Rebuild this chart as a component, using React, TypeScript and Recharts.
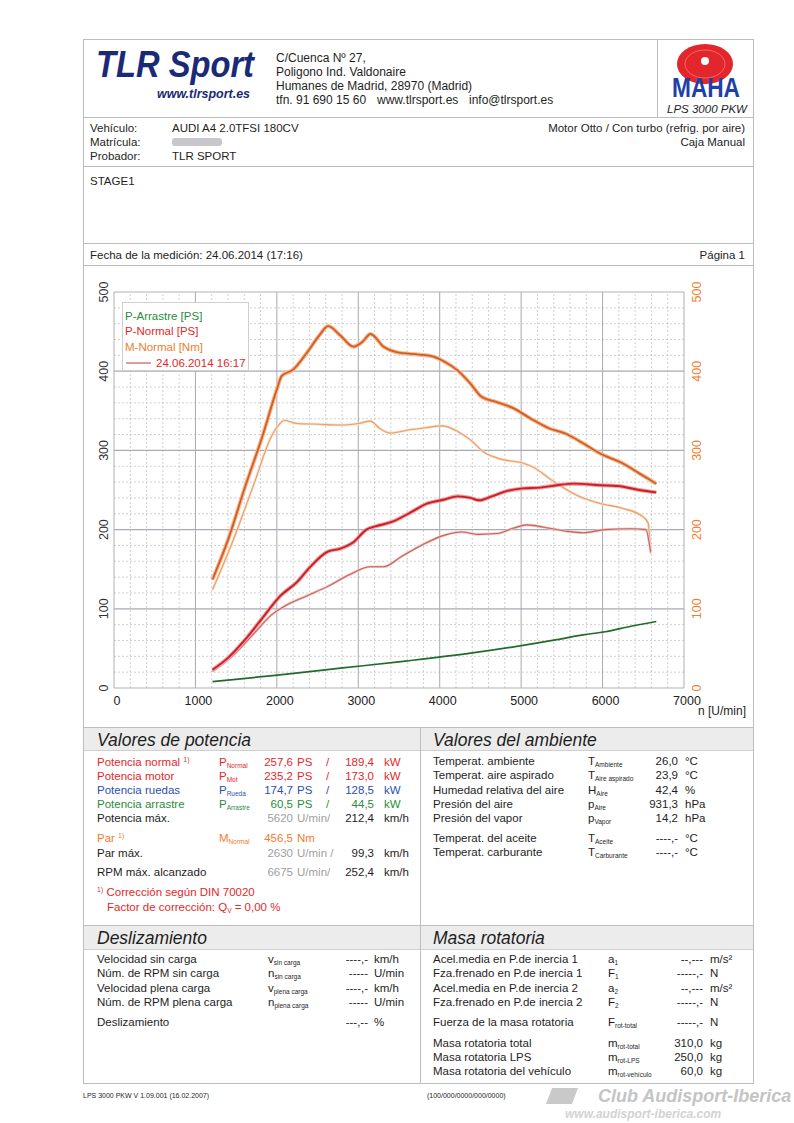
import React from 'react';
import { LineChart, Line, XAxis, YAxis, ReferenceLine } from 'recharts';

// ---------- data ----------
const xTicks = [0, 1000, 2000, 3000, 4000, 5000, 6000, 7000];
const yTicks = [0, 100, 200, 300, 400, 500];

const rpmTorqueA = [1210, 1400, 1610, 1820, 2000, 2060, 2200, 2360, 2520, 2630, 2780, 2940, 3050, 3150, 3310, 3470, 3740, 3900, 4060, 4220, 4380, 4510, 4700, 4910, 5120, 5340, 5550, 5760, 5970, 6240, 6450, 6660];
const torqueA = [137, 187, 254, 317, 377, 394, 402, 422, 445, 457, 445, 431, 437, 447, 431, 424, 421, 419, 412, 401, 384, 368, 361, 353, 340, 328, 321, 309, 296, 284, 271, 258];

const rpmTorqueB = [1210, 1450, 1720, 1930, 2040, 2090, 2250, 2520, 2780, 3000, 3150, 3260, 3390, 3630, 3850, 4030, 4220, 4380, 4540, 4750, 5020, 5180, 5340, 5500, 5710, 5970, 6240, 6500, 6560, 6590];
const torqueB = [124, 183, 258, 317, 334, 338, 334, 333, 332, 334, 337, 328, 322, 326, 329, 331, 324, 313, 298, 289, 284, 277, 265, 254, 242, 233, 227, 216, 208, 170];

const rpmPowerA = [1210, 1400, 1610, 1820, 2040, 2250, 2410, 2620, 2780, 2940, 3100, 3210, 3420, 3630, 3850, 4060, 4220, 4380, 4480, 4640, 4800, 5020, 5230, 5440, 5650, 5970, 6190, 6450, 6660];
const powerA = [23, 38, 61, 88, 116, 134, 153, 172, 176, 184, 200, 204, 210, 221, 233, 238, 242, 240, 237, 242, 248, 252, 253, 256, 258, 256, 255, 250, 247];

const rpmPowerB = [1210, 1450, 1720, 1930, 2090, 2360, 2620, 2890, 3150, 3310, 3530, 3790, 4060, 4270, 4480, 4700, 4910, 5070, 5280, 5550, 5760, 6030, 6350, 6530, 6590];
const powerB = [21, 40, 69, 92, 103, 116, 128, 143, 153, 153, 166, 181, 193, 197, 194, 195, 202, 206, 203, 198, 196, 200, 201, 200, 172];

const rpmDrag = [1210, 1980, 2780, 3580, 4380, 4910, 5440, 5760, 6030, 6350, 6660];
const drag = [8, 16, 25, 34, 44, 52, 61, 67, 71, 78, 84];

const toData = (xs: number[], ys: number[]) => xs.map((x, i) => ({ rpm: x, v: ys[i] }));
const dTorqueA = toData(rpmTorqueA, torqueA);
const dTorqueB = toData(rpmTorqueB, torqueB);
const dPowerA = toData(rpmPowerA, powerA);
const dPowerB = toData(rpmPowerB, powerB);
const dDrag = toData(rpmDrag, drag);

const xMinor = Array.from({ length: 36 }, (_, i) => i * 200).filter((v) => v % 1000 !== 0);
const yMinor = Array.from({ length: 26 }, (_, i) => i * 20).filter((v) => v % 100 !== 0);
const xMajor = [1000, 2000, 3000, 4000, 5000, 6000];
const yMajor = [100, 200, 300, 400];

// ---------- styling ----------
const F = 'Liberation Sans, Arial, Helvetica, sans-serif';
const RED = '#e2282a';
const BLUE = '#2b4fb0';
const GREEN = '#2a8c3c';
const ORANGE = '#ef7d2e';
const GRAY = '#a0a0a0';
const INK = '#1e1e1e';

type TP = { x: number; y: number; children?: React.ReactNode; size?: number; fill?: string; anchor?: 'start' | 'middle' | 'end'; italic?: boolean; bold?: boolean; len?: number };
const T = ({ x, y, children, size = 11.5, fill = INK, anchor = 'start', italic = false, bold = false, len }: TP) => (
  <text x={x} y={y} dominantBaseline="central" fontFamily={F} fontSize={size} fill={fill} textAnchor={anchor}
    fontStyle={italic ? 'italic' : 'normal'} fontWeight={bold ? 'bold' : 'normal'}
    {...(len ? { textLength: len, lengthAdjust: 'spacingAndGlyphs' } : {})}>{children}</text>
);
const Sym = ({ x, y, base, sub, fill = INK }: { x: number; y: number; base: string; sub: string; fill?: string }) => (
  <text x={x} y={y} dominantBaseline="central" fontFamily={F} fontSize={11.5} fill={fill}>
    <tspan>{base}</tspan><tspan fontSize={6.5} dy={3}>{sub}</tspan>
  </text>
);

const LeftTick = (p: any) => {
  const { x, y, payload } = p;
  return <text x={x} y={y} transform={`rotate(-90 ${x} ${y})`} textAnchor="middle" fontFamily={F} fontSize={12.5} fill="#333">{payload.value}</text>;
};
const RightTick = (p: any) => {
  const { x, y, payload } = p;
  return <text x={x} y={y} transform={`rotate(-90 ${x} ${y})`} textAnchor="middle" fontFamily={F} fontSize={12.5} fill={ORANGE}>{payload.value}</text>;
};
const BottomTick = (p: any) => {
  const { x, y, payload } = p;
  return <text x={x + 3} y={y} dy="0.71em" textAnchor="middle" fontFamily={F} fontSize={12.5} fill="#222">{payload.value}</text>;
};

const Chart = () => (
  <LineChart width={668} height={457} margin={{ top: 24, right: 38, bottom: 17, left: 0 }}>
    <XAxis type="number" dataKey="rpm" domain={[0, 7000]} ticks={xTicks} axisLine={false} tickLine={false} tickSize={0} tickMargin={8} height={20} tick={<BottomTick />} allowDataOverflow />
    <YAxis yAxisId="left" orientation="left" type="number" domain={[0, 500]} ticks={yTicks} axisLine={false} tickLine={false} tickSize={0} tickMargin={6} width={30} tick={<LeftTick />} allowDataOverflow />
    <YAxis yAxisId="right" orientation="right" type="number" domain={[0, 500]} ticks={yTicks} axisLine={false} tickLine={false} tickSize={0} tickMargin={17} width={30} tick={<RightTick />} allowDataOverflow />
    {xMinor.map((v) => <ReferenceLine key={'xm' + v} yAxisId="left" x={v} stroke="#c4c4c4" strokeDasharray="2 2" strokeWidth={0.8} />)}
    {yMinor.map((v) => <ReferenceLine key={'ym' + v} yAxisId="left" y={v} stroke="#c4c4c4" strokeDasharray="2 2" strokeWidth={0.8} />)}
    {xMajor.map((v) => <ReferenceLine key={'xM' + v} yAxisId="left" x={v} stroke="#a8a8b0" strokeWidth={1} />)}
    {yMajor.map((v) => <ReferenceLine key={'yM' + v} yAxisId="left" y={v} stroke="#a8aab8" strokeWidth={1.2} />)}
    <ReferenceLine yAxisId="left" x={0} stroke="#b0b0b0" />
    <ReferenceLine yAxisId="left" x={7000} stroke="#b0b0b0" />
    <ReferenceLine yAxisId="left" y={0} stroke="#b0b0b0" />
    <ReferenceLine yAxisId="left" y={500} stroke="#b0b0b0" />

    <Line yAxisId="left" data={dDrag} dataKey="v" type="monotone" stroke="#236b2c" strokeWidth={1.7} dot={false} activeDot={false} isAnimationActive={false} />

    <Line yAxisId="right" data={dTorqueB} dataKey="v" type="monotone" stroke="#fadcc4" strokeWidth={2.6} dot={false} activeDot={false} isAnimationActive={false} />
    <Line yAxisId="right" data={dTorqueB} dataKey="v" type="monotone" stroke="#e6a06c" strokeWidth={1.1} dot={false} activeDot={false} isAnimationActive={false} />
    <Line yAxisId="left" data={dPowerB} dataKey="v" type="monotone" stroke="#f2c4c0" strokeWidth={2.6} dot={false} activeDot={false} isAnimationActive={false} />
    <Line yAxisId="left" data={dPowerB} dataKey="v" type="monotone" stroke="#c2665c" strokeWidth={1.1} dot={false} activeDot={false} isAnimationActive={false} />

    <Line yAxisId="right" data={dTorqueA} dataKey="v" type="monotone" stroke="#f8b888" strokeWidth={4} dot={false} activeDot={false} isAnimationActive={false} />
    <Line yAxisId="right" data={dTorqueA} dataKey="v" type="monotone" stroke="#cf5e2c" strokeWidth={1.8} dot={false} activeDot={false} isAnimationActive={false} />
    <Line yAxisId="left" data={dPowerA} dataKey="v" type="monotone" stroke="#f2a0a0" strokeWidth={4} dot={false} activeDot={false} isAnimationActive={false} />
    <Line yAxisId="left" data={dPowerA} dataKey="v" type="monotone" stroke="#c8202a" strokeWidth={1.9} dot={false} activeDot={false} isAnimationActive={false} />
  </LineChart>
);

const Page = () => (
  <svg width={794} height={1123} style={{ position: 'absolute', left: 0, top: 0 }}>
    <rect x={0} y={0} width={794} height={1123} fill="#ffffff" />
    {/* outer frame and dividers */}
    <rect x={83.5} y={39.5} width={670} height={1044} fill="none" stroke="#bdbdbd" />
    <line x1={657.5} y1={40} x2={657.5} y2={117} stroke="#bdbdbd" />
    <line x1={84} y1={117.5} x2={753} y2={117.5} stroke="#bdbdbd" />
    <line x1={84} y1={166.5} x2={753} y2={166.5} stroke="#bdbdbd" />
    <line x1={84} y1={243.5} x2={753} y2={243.5} stroke="#bdbdbd" />
    <line x1={84} y1={265.5} x2={753} y2={265.5} stroke="#bdbdbd" />
    <line x1={84} y1={727.5} x2={753} y2={727.5} stroke="#bdbdbd" />
    <rect x={84} y={728} width={669} height={22} fill="#ececec" />
    <line x1={84} y1={750.5} x2={753} y2={750.5} stroke="#d0d0d0" />
    <line x1={84} y1={925.5} x2={753} y2={925.5} stroke="#bdbdbd" />
    <rect x={84} y={926} width={669} height={23} fill="#ececec" />
    <line x1={84} y1={949.5} x2={753} y2={949.5} stroke="#d0d0d0" />
    <line x1={420.5} y1={727} x2={420.5} y2={1083} stroke="#bdbdbd" />

    {/* header */}
    <T x={96} y={64} size={36} bold italic fill="#1b2a78" len={158}>TLR Sport</T>
    <T x={157} y={94} size={12.5} bold italic fill="#1b2a78" len={93}>www.tlrsport.es</T>
    <T x={276} y={58} size={12}>C/Cuenca  Nº 27,</T>
    <T x={276} y={72} size={12}>Poligono Ind. Valdonaire</T>
    <T x={276} y={86} size={12}>Humanes de Madrid, 28970 (Madrid)</T>
    <T x={276} y={100} size={12}>tfn. 91 690 15 60</T>
    <T x={377} y={100} size={12}>www.tlrsport.es</T>
    <T x={469} y={100} size={12}>info@tlrsport.es</T>
    <ellipse cx={705} cy={64} rx={28} ry={20} fill="#e3262b" />
    <ellipse cx={705} cy={64} rx={20} ry={14} fill="none" stroke="#f06a6a" strokeWidth={1} />
    <circle cx={705} cy={61} r={4} fill="#ffffff" />
    <T x={706} y={87} size={28} bold anchor="middle" fill="#1e40a8" len={68}>MAHA</T>
    <T x={707} y={109} size={11.5} italic anchor="middle">LPS 3000 PKW</T>

    {/* vehicle */}
    <T x={90} y={128}>Vehículo:</T>
    <T x={90} y={142}>Matrícula:</T>
    <T x={90} y={156}>Probador:</T>
    <T x={172} y={128}>AUDI A4 2.0TFSI 180CV</T>
    <rect x={172} y={138} width={50} height={8} fill="#c8c8cc" rx={3} />
    <T x={172} y={156}>TLR SPORT</T>
    <T x={745} y={128} anchor="end">Motor Otto / Con turbo (refrig. por aire)</T>
    <T x={745} y={142} anchor="end">Caja Manual</T>
    <T x={90} y={181}>STAGE1</T>
    <T x={90} y={255}>Fecha de la medición: 24.06.2014 (17:16)</T>
    <T x={745} y={255} anchor="end">Página 1</T>

    {/* potencia */}
    <T x={97} y={740} size={17.5} italic>Valores de potencia</T>
    <text x={97} y={762} dominantBaseline="central" fontFamily={F} fontSize={11.5} fill={RED}>Potencia normal <tspan fontSize={7} dy={-3}>1)</tspan></text>
    <Sym x={219} y={762} base="P" sub="Normal" fill={RED} />
    <T x={293} y={762} anchor="end" fill={RED}>257,6</T><T x={297} y={762} fill={RED}>PS</T><T x={326} y={762} fill={RED}>/</T><T x={374} y={762} anchor="end" fill={RED}>189,4</T><T x={384} y={762} fill={RED}>kW</T>
    <T x={97} y={776} fill={RED}>Potencia motor</T>
    <Sym x={219} y={776} base="P" sub="Mot" fill={RED} />
    <T x={293} y={776} anchor="end" fill={RED}>235,2</T><T x={297} y={776} fill={RED}>PS</T><T x={326} y={776} fill={RED}>/</T><T x={374} y={776} anchor="end" fill={RED}>173,0</T><T x={384} y={776} fill={RED}>kW</T>
    <T x={97} y={790} fill={BLUE}>Potencia ruedas</T>
    <Sym x={219} y={790} base="P" sub="Rueda" fill={BLUE} />
    <T x={293} y={790} anchor="end" fill={BLUE}>174,7</T><T x={297} y={790} fill={BLUE}>PS</T><T x={326} y={790} fill={BLUE}>/</T><T x={374} y={790} anchor="end" fill={BLUE}>128,5</T><T x={384} y={790} fill={BLUE}>kW</T>
    <T x={97} y={804} fill={GREEN}>Potencia arrastre</T>
    <Sym x={219} y={804} base="P" sub="Arrastre" fill={GREEN} />
    <T x={293} y={804} anchor="end" fill={GREEN}>60,5</T><T x={297} y={804} fill={GREEN}>PS</T><T x={326} y={804} fill={GREEN}>/</T><T x={374} y={804} anchor="end" fill={GREEN}>44,5</T><T x={384} y={804} fill={GREEN}>kW</T>
    <T x={97} y={818}>Potencia máx.</T>
    <T x={293} y={818} anchor="end" fill={GRAY}>5620</T><T x={297} y={818} fill={GRAY}>U/min/</T><T x={374} y={818} anchor="end">212,4</T><T x={384} y={818}>km/h</T>
    <text x={97} y={838} dominantBaseline="central" fontFamily={F} fontSize={11.5} fill={ORANGE}>Par <tspan fontSize={7} dy={-3}>1)</tspan></text>
    <Sym x={219} y={838} base="M" sub="Normal" fill={ORANGE} />
    <T x={293} y={838} anchor="end" fill={ORANGE}>456,5</T><T x={297} y={838} fill={ORANGE}>Nm</T>
    <T x={97} y={853}>Par máx.</T>
    <T x={293} y={853} anchor="end" fill={GRAY}>2630</T><T x={297} y={853} fill={GRAY}>U/min /</T><T x={374} y={853} anchor="end">99,3</T><T x={384} y={853}>km/h</T>
    <T x={97} y={872}>RPM máx. alcanzado</T>
    <T x={293} y={872} anchor="end" fill={GRAY}>6675</T><T x={297} y={872} fill={GRAY}>U/min/</T><T x={374} y={872} anchor="end">252,4</T><T x={384} y={872}>km/h</T>
    <text x={97} y={892} dominantBaseline="central" fontFamily={F} fontSize={11.5} fill={RED}><tspan fontSize={7} dy={-3}>1)</tspan><tspan dy={3}> Corrección según DIN 70020</tspan></text>
    <text x={107} y={907} dominantBaseline="central" fontFamily={F} fontSize={11.5} fill={RED}>Factor de corrección: Q<tspan fontSize={6.5} dy={3}>V</tspan><tspan dy={-3}> =   0,00 %</tspan></text>

    {/* ambiente */}
    <T x={433} y={740} size={17.5} italic>Valores del ambiente</T>
    <T x={433} y={761}>Temperat. ambiente</T><Sym x={588} y={761} base="T" sub="Ambiente" /><T x={678} y={761} anchor="end">26,0</T><T x={685} y={761}>°C</T>
    <T x={433} y={775}>Temperat. aire aspirado</T><Sym x={588} y={775} base="T" sub="Aire aspirado" /><T x={678} y={775} anchor="end">23,9</T><T x={685} y={775}>°C</T>
    <T x={433} y={790}>Humedad relativa del aire</T><Sym x={588} y={790} base="H" sub="Aire" /><T x={678} y={790} anchor="end">42,4</T><T x={685} y={790}>%</T>
    <T x={433} y={804}>Presión del aire</T><Sym x={588} y={804} base="p" sub="Aire" /><T x={678} y={804} anchor="end">931,3</T><T x={685} y={804}>hPa</T>
    <T x={433} y={818}>Presión del vapor</T><Sym x={588} y={818} base="p" sub="Vapor" /><T x={678} y={818} anchor="end">14,2</T><T x={685} y={818}>hPa</T>
    <T x={433} y={838}>Temperat. del aceite</T><Sym x={588} y={838} base="T" sub="Aceite" /><T x={678} y={838} anchor="end">----,-</T><T x={685} y={838}>°C</T>
    <T x={433} y={852}>Temperat. carburante</T><Sym x={588} y={852} base="T" sub="Carburante" /><T x={678} y={852} anchor="end">----,-</T><T x={685} y={852}>°C</T>

    {/* deslizamiento */}
    <T x={97} y={938} size={17.5} italic>Deslizamiento</T>
    <T x={97} y={959}>Velocidad sin carga</T><Sym x={268} y={959} base="v" sub="sin carga" /><T x={368} y={959} anchor="end">----,-</T><T x={374} y={959}>km/h</T>
    <T x={97} y={973}>Núm. de RPM sin carga</T><Sym x={268} y={973} base="n" sub="sin carga" /><T x={368} y={973} anchor="end">-----</T><T x={374} y={973}>U/min</T>
    <T x={97} y={988}>Velocidad plena carga</T><Sym x={268} y={988} base="v" sub="plena carga" /><T x={368} y={988} anchor="end">----,-</T><T x={374} y={988}>km/h</T>
    <T x={97} y={1002}>Núm. de RPM plena carga</T><Sym x={268} y={1002} base="n" sub="plena carga" /><T x={368} y={1002} anchor="end">-----</T><T x={374} y={1002}>U/min</T>
    <T x={97} y={1022}>Deslizamiento</T><T x={368} y={1022} anchor="end">---,--</T><T x={374} y={1022}>%</T>

    {/* masa rotatoria */}
    <T x={433} y={938} size={17.5} italic>Masa rotatoria</T>
    <T x={433} y={959}>Acel.media en P.de inercia 1</T><Sym x={608} y={959} base="a" sub="1" /><T x={703} y={959} anchor="end">--,---</T><T x={710} y={959}>m/s²</T>
    <T x={433} y={973}>Fza.frenado en P.de inercia 1</T><Sym x={608} y={973} base="F" sub="1" /><T x={703} y={973} anchor="end">-----,-</T><T x={710} y={973}>N</T>
    <T x={433} y={988}>Acel.media en P.de inercia 2</T><Sym x={608} y={988} base="a" sub="2" /><T x={703} y={988} anchor="end">--,---</T><T x={710} y={988}>m/s²</T>
    <T x={433} y={1002}>Fza.frenado en P.de inercia 2</T><Sym x={608} y={1002} base="F" sub="2" /><T x={703} y={1002} anchor="end">-----,-</T><T x={710} y={1002}>N</T>
    <T x={433} y={1022}>Fuerza de la masa rotatoria</T><Sym x={608} y={1022} base="F" sub="rot-total" /><T x={703} y={1022} anchor="end">-----,-</T><T x={710} y={1022}>N</T>
    <T x={433} y={1043}>Masa rotatoria total</T><Sym x={608} y={1043} base="m" sub="rot-total" /><T x={703} y={1043} anchor="end">310,0</T><T x={710} y={1043}>kg</T>
    <T x={433} y={1057}>Masa rotatoria LPS</T><Sym x={608} y={1057} base="m" sub="rot-LPS" /><T x={703} y={1057} anchor="end">250,0</T><T x={710} y={1057}>kg</T>
    <T x={433} y={1071}>Masa rotatoria del vehículo</T><Sym x={608} y={1071} base="m" sub="rot-vehículo" /><T x={703} y={1071} anchor="end">60,0</T><T x={710} y={1071}>kg</T>

    {/* footer */}
    <T x={83} y={1095} size={7}>LPS 3000 PKW V 1.09.001 (16.02.2007)</T>
    <T x={427} y={1095} size={7}>(100/000/0000/000/0000)</T>
    <polygon points="552,1088 578,1088 572,1104 546,1104" fill="#c9c9c9" />
    <T x={598} y={1096} size={18} bold italic fill="#c4c4c4">Club Audisport-Iberica</T>
    <T x={565} y={1114} size={12} bold italic fill="#d2d2d2">www.audisport-iberica.com</T>
  </svg>
);

const Legend = () => (
  <svg width={130} height={72} style={{ position: 'absolute', left: 121, top: 301 }}>
    <rect x={1.5} y={1.5} width={126} height={68} fill="#ffffff" stroke="#cfcfcf" />
    <T x={4} y={15} size={11.5} fill={GREEN}>P-Arrastre [PS]</T>
    <T x={4} y={30} size={11.5} fill={RED}>P-Normal [PS]</T>
    <T x={4} y={46} size={11.5} fill={ORANGE}>M-Normal [Nm]</T>
    <line x1={5} y1={62} x2={30} y2={62} stroke="#b04040" strokeWidth={1} />
    <T x={35} y={62} size={11.5} fill={RED}>24.06.2014 16:17</T>
  </svg>
);

export default function App() {
  return (
    <div style={{ position: 'absolute', left: 0, top: 0, width: 794, height: 1123, background: '#fff', overflow: 'hidden' }}>
      <Page />
      <div style={{ position: 'absolute', left: 84, top: 268 }}>
        <Chart />
      </div>
      <Legend />
      <svg width={60} height={20} style={{ position: 'absolute', left: 690, top: 702 }}>
        <T x={56} y={9} size={12} anchor="end">n [U/min]</T>
      </svg>
    </div>
  );
}
